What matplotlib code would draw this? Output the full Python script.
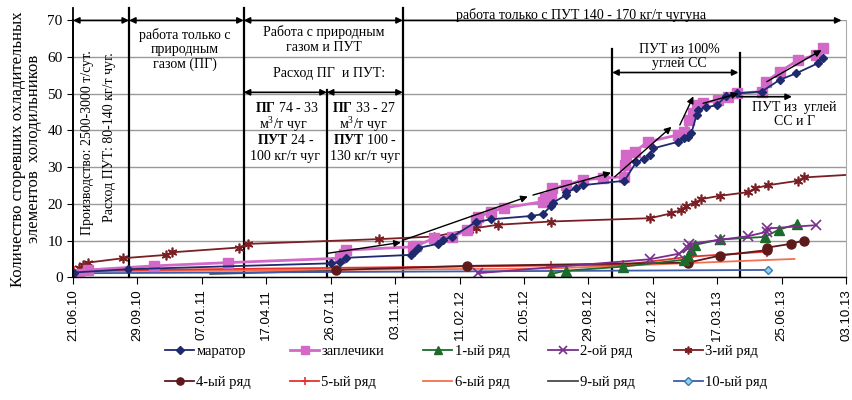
import matplotlib
matplotlib.use('Agg')
import matplotlib.pyplot as plt
import matplotlib.dates as mdates
import numpy as np
from datetime import datetime

plt.rcParams['font.family'] = ['Liberation Serif', 'DejaVu Serif']
plt.rcParams['mathtext.fontset'] = 'custom'
plt.rcParams['mathtext.rm'] = 'Liberation Serif'
plt.rcParams['mathtext.it'] = 'Liberation Serif:italic'
plt.rcParams['mathtext.bf'] = 'Liberation Serif:bold'

START = datetime(2010, 6, 21)

# ---- data: x = days since 21.06.10, y = count ----
marator_days = [1, 85, 400, 415, 423, 524, 529, 536, 566, 575, 589, 625, 649, 711, 729, 742, 745,
                765, 766, 781, 791, 856, 874, 886, 895, 900, 939, 949, 955, 960, 968, 970, 983,
                999, 1014, 1030, 1069, 1097, 1123, 1156, 1165]
marator_vals = [1.3, 2.2, 3.8, 4.2, 5.3, 6.1, 6.9, 8.0, 9.1, 10.2, 11.1, 15.0, 15.8, 16.7, 17.2, 19.4, 20.3,
                22.4, 23.2, 24.2, 25.1, 26.3, 31.3, 32.2, 33.3, 35.1, 36.9, 37.9, 38.3, 39.4, 44.2, 45.6, 46.3,
                46.9, 49.4, 50.1, 50.6, 53.8, 55.6, 58.3, 59.7]

zapl_days = [10, 23, 125, 241, 415, 420, 423, 527, 532, 560, 589, 612, 625, 628, 649, 669, 729, 732,
             742, 743, 765, 791, 822, 856, 857, 858, 872, 892, 939, 949, 957, 962, 968, 978, 1001,
             1017, 1030, 1069, 1076, 1097, 1126, 1154, 1165]
zapl_vals = [1.0, 2.0, 3.1, 4.0, 5.2, 6.3, 7.4, 8.3, 8.5, 10.6, 11.1, 12.9, 15.6, 16.3, 17.9, 18.9, 20.6, 21.5,
             22.4, 24.2, 25.1, 26.5, 27.0, 27.4, 30.5, 33.3, 34.2, 36.9, 38.8, 39.7, 42.9, 44.7, 46.9, 47.4, 48.3,
             49.2, 50.1, 50.6, 53.3, 56.0, 59.2, 60.6, 62.4]

row1_days = [742, 765, 854, 949, 955, 959, 965, 1004, 1074, 1096, 1124]
row1_vals = [0.9, 1.8, 2.9, 4.8, 5.8, 7.5, 8.8, 10.3, 11.0, 13.0, 14.5]

row2_days = [628, 895, 940, 955, 957, 1004, 1048, 1077, 1078, 1154]
row2_vals = [1.1, 4.9, 6.4, 7.9, 9.1, 10.2, 11.2, 12.4, 13.3, 14.2]

row3_days = [10, 16, 23, 78, 145, 153, 257, 272, 475, 560, 615, 625, 659, 742, 896, 928, 944, 952,
             965, 975, 1004, 1048, 1058, 1079, 1126, 1134, 1240]
row3_vals = [2.5, 3.4, 4.0, 5.2, 6.1, 6.8, 8.1, 9.1, 10.4, 11.1, 12.9, 13.4, 14.3, 15.2, 16.1, 17.4, 18.3, 19.4,
             20.3, 21.3, 22.2, 23.2, 24.2, 25.1, 26.3, 27.2, 28.3]

row4_days = [409, 612, 955, 1004, 1077, 1078, 1114, 1134]
row4_vals = [2.0, 3.1, 4.0, 5.9, 7.4, 8.1, 9.1, 10.0]

row5_days = [1, 742, 854, 957, 1077]
row5_vals = [1.8, 3.2, 3.4, 5.6, 7.0]

row6_days = [1, 742, 1120]
row6_vals = [1.6, 2.4, 5.0]

row9_days = [213, 409]
row9_vals = [0.9, 1.8]

row10_days = [1, 1079]
row10_vals = [1.1, 2.0]

labels = ['маратор', 'заплечики', '1-ый ряд', '2-ой ряд', '3-ий ряд',
          '4-ый ряд', '5-ый ряд', '6-ый ряд', '9-ый ряд', '10-ый ряд']

x0 = mdates.date2num(START)
def X(d):
    return x0 + np.asarray(d, dtype=float)

fig = plt.figure(figsize=(8.52, 4.0), dpi=100)
ax = fig.add_axes([0.0857, 0.3068, 0.9073, 0.6422])

h = {}
h['row6'], = ax.plot(X(row6_days), row6_vals, color='#f4704f', lw=1.3, label=labels[7])
h['row9'], = ax.plot(X(row9_days), row9_vals, color='#4a4a4a', lw=1.3, label=labels[8])
h['row10'], = ax.plot(X(row10_days), row10_vals, color='#3e5ba6', lw=1.3, marker='D', ms=4.5,
                      mfc='#8fd0f0', mec='#3e7ab0', label=labels[9])
h['row5'], = ax.plot(X(row5_days), row5_vals, color='#e8312f', lw=1.3, marker='+', ms=7, mew=1.2,
                     label=labels[6])
h['row4'], = ax.plot(X(row4_days), row4_vals, color='#5e1a1a', lw=1.3, marker='o', ms=6.5, label=labels[5])
h['row1'], = ax.plot(X(row1_days), row1_vals, color='#1d6b2a', lw=1.3, marker='^', ms=6.5, label=labels[2])
h['row2'], = ax.plot(X(row2_days), row2_vals, color='#7a2e8c', lw=1.3, marker='x', ms=6.5, mew=1.2,
                     label=labels[3])
h['row3'], = ax.plot(X(row3_days), row3_vals, color='#7a1f24', lw=1.3, marker=(6, 2, 0), ms=7, mew=1.2,
                     label=labels[4])
h['zapl'], = ax.plot(X(zapl_days), zapl_vals, color='#d468c8', lw=2.0, marker='s', ms=7.5,
                     label=labels[1])
h['mar'], = ax.plot(X(marator_days), marator_vals, color='#1f2a6e', lw=1.3, marker='D', ms=4.5,
                    label=labels[0])

ax.set_xlim(x0, x0 + 1200)
ax.set_ylim(0, 70)
ax.set_xticks(x0 + np.arange(0, 1201, 100))
ax.xaxis.set_major_formatter(mdates.DateFormatter('%d.%m.%y'))
ax.set_yticks(np.arange(0, 71, 10))
for lab in ax.get_xticklabels():
    lab.set_rotation(90)
    lab.set_fontfamily('Liberation Sans')
    lab.set_fontsize(9.5)
ax.tick_params(axis='y', labelsize=11, length=4, direction='out')
ax.tick_params(axis='x', length=5, direction='out')
ax.yaxis.grid(True, color='#9a9a9a', lw=1.0)
ax.set_axisbelow(True)
ax.spines['top'].set_visible(False)
ax.spines['right'].set_color('#aaaaaa')
ax.spines['left'].set_linewidth(1.2)
ax.spines['bottom'].set_linewidth(1.0)

ax.set_ylabel('Количество сгоревших охладительных\nэлементов  холодильников', fontsize=12,
              linespacing=1.0, labelpad=4)

# vertical divider lines
def vline(d, top, lw=1.6):
    ax.plot([X(d), X(d)], [0, top], color='black', lw=lw, clip_on=False, zorder=1)

vline(0, 73.4, 1.3)
for d in [87, 265, 512]:
    vline(d, 73.4)
vline(394, 51.0)
vline(837, 62.2)
vline(1035, 61.2)

def arr(d1, v1, d2, v2, style='<|-|>', lw=1.2, ms=9):
    ax.annotate('', xy=(X(d2), v2), xytext=(X(d1), v1),
                arrowprops=dict(arrowstyle=style, color='black', lw=lw, mutation_scale=ms,
                                shrinkA=0, shrinkB=0), annotation_clip=False)

arr(0, 70, 87, 70)
arr(87, 70, 265, 70)
arr(265, 70, 512, 70)
arr(512, 70, 1193, 70, style='-|>')
arr(265, 50.4, 394, 50.4)
arr(394, 50.4, 512, 50.4)
arr(837, 55.8, 1033, 55.8)
arr(1035, 49.2, 1116, 49.2, style='-|>')

# trend arrows
for (d1, v1, d2, v2) in [(394, 6.5, 509, 9.5), (514, 10.2, 706, 22.0), (714, 22.4, 835, 28.5),
                         (841, 27.4, 929, 41.0), (942, 41.5, 963, 49.3), (978, 47.4, 1033, 50.1),
                         (1077, 53.3, 1162, 61.9)]:
    arr(d1, v1, d2, v2, style='-|>', lw=1.0, ms=10)

fs = 10
def txt(d, v, s, **kw):
    kw.setdefault('ha', 'center')
    kw.setdefault('va', 'center')
    kw.setdefault('fontsize', fs)
    return ax.text(X(d), v, s, clip_on=False, **kw)

txt(23, 36.8, 'Производство: 2500-3000 т/сут.', rotation=90)
txt(57, 38.3, 'Расход ПУТ: 80-140 кг/т чуг.', rotation=90)
txt(174, 62.1, 'работа только с\nприродным\nгазом (ПГ)', linespacing=1.15)
txt(389, 64.8, 'Работа с природным\nгазом и ПУТ', linespacing=1.15)
txt(397, 55.6, 'Расход ПГ  и ПУТ:')

txt(332, 46.1, r'$\mathbf{ПГ}$ 74 - 33')
txt(327, 41.5, 'м$^3$/т чуг')
txt(330, 37.4, r'$\mathbf{ПУТ}$ 24 -')
txt(329, 32.8, '100 кг/т чуг')
txt(451, 46.1, r'$\mathbf{ПГ}$ 33 - 27')
txt(451, 41.5, 'м$^3$/т чуг')
txt(453, 37.4, r'$\mathbf{ПУТ}$ 100 -')
txt(454, 32.8, '130 кг/т чуг')

txt(789, 71.6, 'работа только с ПУТ 140 - 170 кг/т чугуна')
txt(941, 60.2, 'ПУТ из 100%\nуглей СС', linespacing=1.15)
txt(1120, 44.4, 'ПУТ из  углей\nСС и Г', linespacing=1.15)

order = ['mar', 'row4', 'zapl', 'row5', 'row1', 'row6', 'row2', 'row9', 'row3', 'row10']
fig.legend([h[k] for k in order], [h[k].get_label() for k in order], ncol=5, frameon=False,
           loc='center', bbox_to_anchor=(0.547, 0.083), fontsize=10.5, handlelength=2.0,
           handletextpad=0.15, columnspacing=2.67, labelspacing=1.25, markerscale=0.8)

fig.savefig('out.png', dpi=100)
